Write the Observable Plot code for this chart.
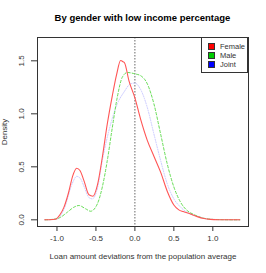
<!DOCTYPE html>
<html><head><meta charset="utf-8">
<script src="https://cdn.jsdelivr.net/npm/d3@7"></script>
<script src="https://cdn.jsdelivr.net/npm/@observablehq/plot@0.6"></script>
<style>
body{margin:0;background:#fff;font-family:"Liberation Sans",Arial,sans-serif;}
#wrap{position:relative;width:266px;height:273px;}
#title{position:absolute;left:37px;width:211px;top:12px;text-align:center;font-weight:bold;font-size:9.5px;color:#000;}
#legend{position:absolute;left:201px;top:37px;width:47px;height:36px;border:1px solid #333;background:#fff;font-size:7.5px;color:#333;box-sizing:border-box;padding:4px 0 0 6px;}
.row{display:flex;align-items:center;height:9px;line-height:9px;white-space:nowrap;}
.sw{display:inline-block;width:5px;height:5px;border:1px solid #333;margin-right:5px;flex:none;}
</style></head>
<body><div id="wrap"><div id="title">By gender with low income percentage</div></div>
<script>
const femaleX=[-1.157,-1.1,-1.02,-0.96,-0.91,-0.85,-0.80,-0.747,-0.705,-0.654,-0.59,-0.538,-0.482,-0.418,-0.354,-0.29,-0.235,-0.183,-0.15,-0.132,-0.077,0,0.073,0.159,0.244,0.33,0.415,0.5,0.564,0.62,0.692,0.8,0.885,0.97,1.1,1.2,1.346];
const femaleY=[0,0.001,0.006,0.05,0.12,0.26,0.41,0.487,0.465,0.37,0.236,0.223,0.324,0.59,0.906,1.17,1.37,1.503,1.49,1.48,1.314,1.15,0.95,0.75,0.6,0.45,0.27,0.14,0.094,0.078,0.062,0.03,0.012,0.004,0.001,0,0];
const maleX=[-1.15,-1.0,-0.952,-0.867,-0.78,-0.718,-0.632,-0.568,-0.482,-0.418,-0.354,-0.29,-0.226,-0.162,-0.097,0,0.073,0.159,0.244,0.33,0.415,0.5,0.586,0.67,0.756,0.885,1.0,1.15,1.346];
const maleY=[0,0.01,0.025,0.072,0.12,0.135,0.104,0.081,0.15,0.31,0.56,0.87,1.157,1.345,1.39,1.377,1.36,1.283,1.094,0.81,0.528,0.31,0.166,0.088,0.05,0.015,0.004,0.001,0];
const jointX=[-1.157,-1.0,-0.91,-0.8,-0.747,-0.7,-0.65,-0.59,-0.546,-0.48,-0.418,-0.31,-0.226,-0.141,-0.055,0,0.073,0.159,0.244,0.33,0.415,0.5,0.586,0.67,0.8,0.97,1.346];
const jointY=[0,0.008,0.1,0.35,0.41,0.39,0.31,0.21,0.198,0.3,0.56,0.906,1.094,1.204,1.283,1.29,1.23,1.06,0.81,0.56,0.34,0.198,0.12,0.07,0.034,0.005,0];
const series=["Female","Male","Joint"];
const legendColors=["#ff0000","#00cd00","#0000ff"];
const xTicks=[-1.0,-0.5,0.0,0.5,1.0];
const yTicks=[0.0,0.5,1.0,1.5];

const toRows=(xs,ys,s)=>xs.map((x,i)=>({x,y:ys[i],s}));
const female=toRows(femaleX,femaleY,"Female");
const male=toRows(maleX,maleY,"Male");
const joint=toRows(jointX,jointY,"Joint");

const fmt=d=>d.toFixed(1);
const chart=Plot.plot({
  width:266,height:273,
  marginLeft:37,marginRight:18,marginTop:37,marginBottom:47,
  style:{fontFamily:"Liberation Sans, Arial, sans-serif",fontSize:"8px",color:"#333",background:"#fff"},
  x:{domain:[-1.25,1.458]},
  y:{domain:[-0.063,1.72]},
  marks:[
    Plot.axisX({ticks:xTicks,tickFormat:fmt,tickSize:5,tickPadding:4,label:"Loan amount deviations from the population average",labelAnchor:"center",labelArrow:"none",labelOffset:32}),
    Plot.axisY({ticks:yTicks,tickFormat:fmt,tickSize:6,tickPadding:8,tickRotate:-90,label:"Density",labelAnchor:"center",labelArrow:"none",labelOffset:36}),
    Plot.ruleX([0],{stroke:"#666",strokeDasharray:"1.5,1.5",strokeWidth:1}),
    Plot.line(joint,{x:"x",y:"y",stroke:"#c8c8ff",strokeWidth:1,strokeDasharray:"1,1.5",curve:"monotone-x"}),
    Plot.line(male,{x:"x",y:"y",stroke:"#66dd55",strokeWidth:1,strokeDasharray:"2.5,2",curve:"monotone-x"}),
    Plot.line(female,{x:"x",y:"y",stroke:"#ff5555",strokeWidth:1.1,curve:"monotone-x"}),
    Plot.frame({stroke:"#333"})
  ]
});
const wrap=document.getElementById("wrap");
wrap.insertBefore(chart,wrap.firstChild);
chart.style.position="absolute";chart.style.left="0";chart.style.top="0";
const leg=document.createElement("div");leg.id="legend";
series.forEach((s,i)=>{const r=document.createElement("div");r.className="row";const sw=document.createElement("span");sw.className="sw";sw.style.background=legendColors[i];r.appendChild(sw);r.appendChild(document.createTextNode(s));leg.appendChild(r);});
wrap.appendChild(leg);
</script></body></html>
